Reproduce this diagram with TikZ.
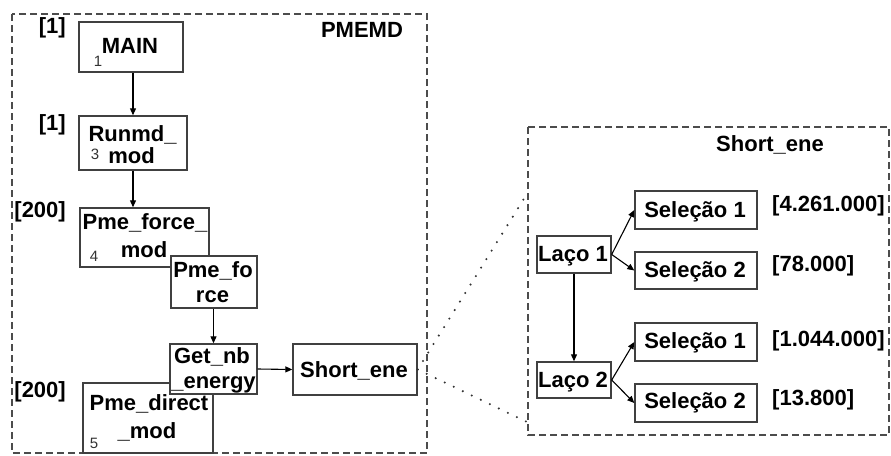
\documentclass[tikz,border=0pt]{standalone}
\usepackage{fontspec}
\setmainfont{Liberation Sans}
\usetikzlibrary{arrows.meta}
\definecolor{edge}{gray}{0.25}
\definecolor{frameg}{gray}{0.3}
\newcommand{\bigf}{\fontsize{22}{24}\selectfont\bfseries}
\newcommand{\smallf}{\fontsize{15}{16}\selectfont}
\begin{document}
\begin{tikzpicture}[x=1pt,y=-1pt,
  box/.style={draw=edge, line width=1.4pt, fill=white, rectangle, inner sep=0pt},
  lbl/.style={font=\bigf, inner sep=0pt, anchor=base},
  lble/.style={font=\bigf, inner sep=0pt, anchor=base east},
  lblw/.style={font=\bigf, inner sep=0pt, anchor=base west},
  num/.style={font=\smallf, text=black!80, inner sep=0pt, anchor=base},
  arr/.style={-{Triangle[length=7pt,width=6pt]}, line width=1.1pt, draw=black},
  frame/.style={draw=frameg, line width=1.3pt, dash pattern=on 7pt off 4pt},
  dots/.style={draw=black!80, line width=2.3pt, line cap=round, dash pattern=on 0pt off 10pt}]
\useasboundingbox (0,0) rectangle (891,455);

% frames
\draw[frame] (12,14) rectangle (427,453);
\draw[frame] (528,127) rectangle (889,435);
\node[lbl] (tPMEMD) at (362,37) {PMEMD};
\node[lbl] (tShortT) at (770,151) {Short\_ene};

% call counts
\node[lble] (c1) at (66,33) {[1]};
\node[lble] (c2) at (66,130) {[1]};
\node[lble] (c3) at (66,217) {[200]};
\node[lble] (c4) at (66,397) {[200]};

% left boxes
\node[box, minimum width=104pt, minimum height=50pt] (MAIN) at (131,47) {};
\node[lbl] (tMAIN) at (130,53) {MAIN};
\node[num] (n1) at (98,66) {1};

\node[box, minimum width=108pt, minimum height=54pt] (Runmd) at (133,143) {};
\node[lbl] (tRun1) at (132.5,141) {Runmd\_};
\node[lbl] (tRun2) at (131.5,163) {mod};
\node[num] (n3) at (95,159) {3};

\node[box, minimum width=129pt, minimum height=59pt] (PFmod) at (144.5,237.5) {};
\node[lbl] (tPFm1) at (145,229) {Pme\_force\_};
\node[lbl] (tPFm2) at (144,257) {mod};
\node[num] (n4) at (94,261) {4};

\node[box, minimum width=86pt, minimum height=52pt] (PF) at (214,282) {};
\node[lbl] (tPF1) at (213,277) {Pme\_fo};
\node[lbl] (tPF2) at (212.5,302) {rce};

\node[box, minimum width=130pt, minimum height=70pt] (PDmod) at (148,418) {};
\node[lbl] (tPD1) at (149,410) {Pme\_direct};
\node[lbl] (tPD2) at (147,438) {\_mod};
\node[num] (n5) at (94,448) {5};

\node[box, minimum width=87pt, minimum height=50pt] (Getnb) at (213.5,369) {};
\node[lbl] (tGet1) at (212,363) {Get\_nb};
\node[lbl] (tGet2) at (213.5,388) {\_energy};

\node[box, minimum width=124pt, minimum height=51pt] (Short) at (355,369.5) {};
\node[lbl] (tShort) at (354,377) {Short\_ene};

% left arrows
\draw[arr] (MAIN.south -| 133,0) -- (Runmd.north -| 133,0);
\draw[arr] (Runmd.south) -- (Runmd.south |- PFmod.north);
\draw[arr] (PF.south -| 213.5,0) -- (Getnb.north);
\draw[arr] (Getnb.east) -- (Short.west);

% dotted zoom lines
\coordinate (zt) at (525,197);
\coordinate (zb) at (527,422);
\draw[dots] (Short.east) -- (zt);
\draw[dots] (Short.east) -- (zb);

% right boxes
\node[box, minimum width=74pt, minimum height=37pt] (L1) at (574,254.5) {};
\node[lbl] (tL1) at (573,261) {Laço 1};
\node[box, minimum width=74pt, minimum height=36pt] (L2) at (574,380) {};
\node[lbl] (tL2) at (573,387) {Laço 2};

\node[box, minimum width=122pt, minimum height=38pt] (S1a) at (696,210) {};
\node[lbl] (tS1a) at (695,217) {Seleção 1};
\node[box, minimum width=122pt, minimum height=37pt] (S2a) at (696,270.5) {};
\node[lbl] (tS2a) at (695,277) {Seleção 2};
\node[box, minimum width=122pt, minimum height=38pt] (S1b) at (696,342) {};
\node[lbl] (tS1b) at (695,348) {Seleção 1};
\node[box, minimum width=122pt, minimum height=38pt] (S2b) at (696,403) {};
\node[lbl] (tS2b) at (695,408) {Seleção 2};

\node[lblw] (v1) at (772,211) {[4.261.000]};
\node[lblw] (v2) at (772,271) {[78.000]};
\node[lblw] (v3) at (772,346) {[1.044.000]};
\node[lblw] (v4) at (772,405) {[13.800]};

% right arrows
\draw[arr] (L1.south) -- (L2.north);
\draw[arr] (L1.east) -- (S1a.west);
\draw[arr] (L1.east) -- (S2a.west);
\draw[arr] (L2.east) -- (S1b.west);
\draw[arr] (L2.east) -- (S2b.west);
\end{tikzpicture}
\end{document}
